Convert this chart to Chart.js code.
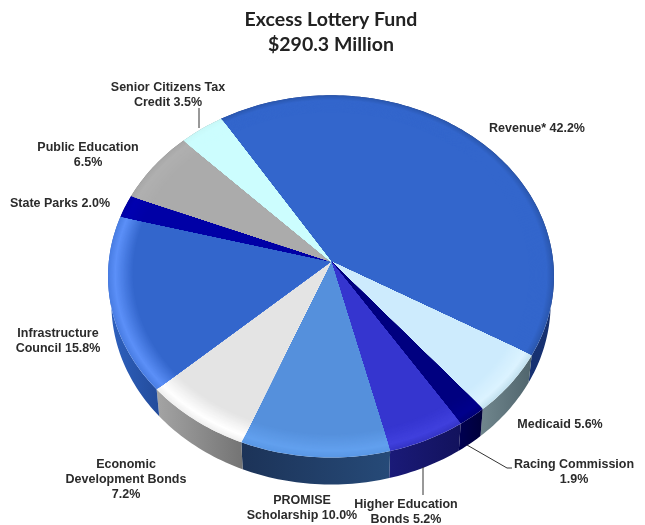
<!DOCTYPE html>
<html lang="en">

<head>
  <meta name="viewport" content="width=device-width, initial-scale=1.0" />
  <title>Excess Lottery Fund</title>
  <style>
    html, body { margin: 0; padding: 0; background: #fff; }
    canvas { display: block; }
  </style>
  <script src="https://cdn.jsdelivr.net/npm/chart.js"></script>
</head>

<body>
  <canvas id="pieChart" width="645" height="525"></canvas>

  <script>
    const titleLines = ['Excess Lottery Fund', '$290.3 Million'];
    const categories = ['Revenue*', 'Medicaid', 'Racing Commission', 'Higher Education Bonds', 'PROMISE Scholarship',
      'Economic Development Bonds', 'Infrastructure Council', 'State Parks', 'Public Education', 'Senior Citizens Tax Credit'];
    const shares = [42.2, 5.6, 1.9, 5.2, 10.0, 7.2, 15.8, 2.0, 6.5, 3.5];

    const faceColors = ['#3366cc', '#cdebfd', '#000080', '#3535cf', '#5590dc', '#e4e4e4', '#3366cc', '#0000a6', '#ababab', '#ccfdfe'];
    // bevel along the rim of the top face: peak colour, then the very edge
    const rimColors = ['#3366cc', '#dcf3ff', '#00008c', '#4040dd', '#62a0ee', '#ffffff', '#5c90f8', '#0000b0', '#b0b0b0', '#ccfdfe'];
    const edgeColors = ['#2b58b0', '#c4e2f0', '#000078', '#3535c8', '#5a98e6', '#f0f0f0', '#4a7ee4', '#0000a6', '#a8a8a8', '#c8f8f8'];
    const sideLeft = ['#1c3f96', '#6f858c', '#000050', '#1a1a78', '#1c3358', '#a4a4a4', '#2f62c0', '#000070', '#777777', '#88aaaa'];
    const sideRight = ['#16306f', '#4f646c', '#000038', '#12125c', '#264a78', '#747474', '#234c9c', '#000070', '#777777', '#88aaaa'];

    const labelText = [
      { lines: ['Revenue* 42.2%'], x: 537, y: 129 },
      { lines: ['Medicaid 5.6%'], x: 560, y: 425 },
      { lines: ['Racing Commission', '1.9%'], x: 574, y: 465 },
      { lines: ['Higher Education', 'Bonds 5.2%'], x: 406, y: 505 },
      { lines: ['PROMISE', 'Scholarship 10.0%'], x: 302, y: 501 },
      { lines: ['Economic', 'Development Bonds', '7.2%'], x: 126, y: 465 },
      { lines: ['Infrastructure', 'Council 15.8%'], x: 58, y: 334 },
      { lines: ['State Parks 2.0%'], x: 60, y: 204 },
      { lines: ['Public Education', '6.5%'], x: 88, y: 148 },
      { lines: ['Senior Citizens Tax', 'Credit 3.5%'], x: 168, y: 88 }
    ];
    const leaderLines = [
      [[199, 108], [199, 128]],
      [[423, 467], [423, 495]],
      [[467, 445], [507, 468], [512, 468]]
    ];

    // perspective of the tilted disc, relative to the arc's outerRadius
    const widthRatio = 0.992;
    const heightRatio = 0.803;
    const tilt = -0.083;
    const depth = 27;
    const baseNarrow = 0.985;

    function project(arc, angle, s) {
      const u = s * Math.cos(angle);
      const v = s * Math.sin(angle);
      const den = 1 + tilt * v;
      return {
        x: arc.x + arc.outerRadius * widthRatio * u / den,
        y: arc.y + arc.outerRadius * heightRatio * v / den
      };
    }

    function rimPoints(arc, s) {
      const steps = Math.max(2, Math.ceil((arc.endAngle - arc.startAngle) / 0.02));
      const pts = [];
      for (let i = 0; i <= steps; i++) {
        pts.push(project(arc, arc.startAngle + (arc.endAngle - arc.startAngle) * i / steps, s));
      }
      return pts;
    }

    function tracePoly(ctx, pts) {
      ctx.beginPath();
      pts.forEach((p, i) => i ? ctx.lineTo(p.x, p.y) : ctx.moveTo(p.x, p.y));
      ctx.closePath();
    }

    function mixHex(a, b, t) {
      const ca = [1, 3, 5].map(i => parseInt(a.substr(i, 2), 16));
      const cb = [1, 3, 5].map(i => parseInt(b.substr(i, 2), 16));
      return 'rgb(' + ca.map((c, i) => Math.round(c + (cb[i] - c) * t)).join(',') + ')';
    }

    function ringColor(i, s) {
      if (s > 0.97) return mixHex(edgeColors[i], rimColors[i], (1 - s) / 0.03);
      return mixHex(rimColors[i], faceColors[i], Math.min(1, (0.97 - s) / 0.08));
    }

    // the arcs keep the angles Chart.js worked out, only their outline is tilted
    const tiltPlugin = {
      id: 'tilt',
      beforeDatasetsDraw(chart) {
        const ctx = chart.ctx;
        const arcs = chart.getDatasetMeta(0).data;
        ctx.save();
        arcs.forEach((arc, i) => {
          const rim = rimPoints(arc, 1);
          const lower = rim.map(p => ({ x: arc.x + (p.x - arc.x) * baseNarrow, y: p.y + depth })).reverse();
          const xs = rim.map(p => p.x);
          const grad = ctx.createLinearGradient(Math.min(...xs), 0, Math.max(...xs) + 1, 0);
          grad.addColorStop(0, sideLeft[i]);
          grad.addColorStop(1, sideRight[i]);
          tracePoly(ctx, rim.concat(lower));
          ctx.fillStyle = grad;
          ctx.fill();
        });
        arcs.forEach((arc, i) => {
          for (let s = 1; s > 0.885; s -= 0.005) {
            tracePoly(ctx, [{ x: arc.x, y: arc.y }].concat(rimPoints(arc, s)));
            ctx.fillStyle = ringColor(i, s);
            ctx.fill();
          }
        });
        ctx.restore();
        return false;
      }
    };

    const labelPlugin = {
      id: 'sliceLabels',
      afterDraw(chart) {
        const ctx = chart.ctx;
        ctx.save();
        ctx.strokeStyle = '#333333';
        ctx.lineWidth = 1;
        leaderLines.forEach(pts => {
          ctx.beginPath();
          pts.forEach((p, i) => i ? ctx.lineTo(p[0], p[1]) : ctx.moveTo(p[0], p[1]));
          ctx.stroke();
        });
        ctx.fillStyle = '#2b2b2b';
        ctx.font = 'bold 12.5px "Liberation Sans", Arial, sans-serif';
        ctx.textAlign = 'center';
        ctx.textBaseline = 'middle';
        labelText.forEach(l => {
          l.lines.forEach((t, i) => ctx.fillText(t, l.x, l.y + i * 14.7));
        });
        ctx.restore();
      }
    };

    new Chart(document.getElementById('pieChart').getContext('2d'), {
      type: 'pie',
      data: {
        labels: categories,
        datasets: [{
          data: shares,
          backgroundColor: faceColors,
          borderWidth: 0,
          radius: 224
        }]
      },
      options: {
        responsive: false,
        animation: false,
        rotation: -32,
        layout: { padding: { left: 17, right: 0, top: 0, bottom: 59 } },
        plugins: {
          legend: { display: false },
          tooltip: { enabled: false },
          title: {
            display: true,
            text: titleLines,
            color: '#222222',
            font: { family: 'Lato, "Open Sans", sans-serif', size: 19.5, weight: 'bold', lineHeight: 1.25 },
            padding: { top: 8, bottom: 0 }
          }
        }
      },
      plugins: [tiltPlugin, labelPlugin]
    });
  </script>
</body>

</html>
